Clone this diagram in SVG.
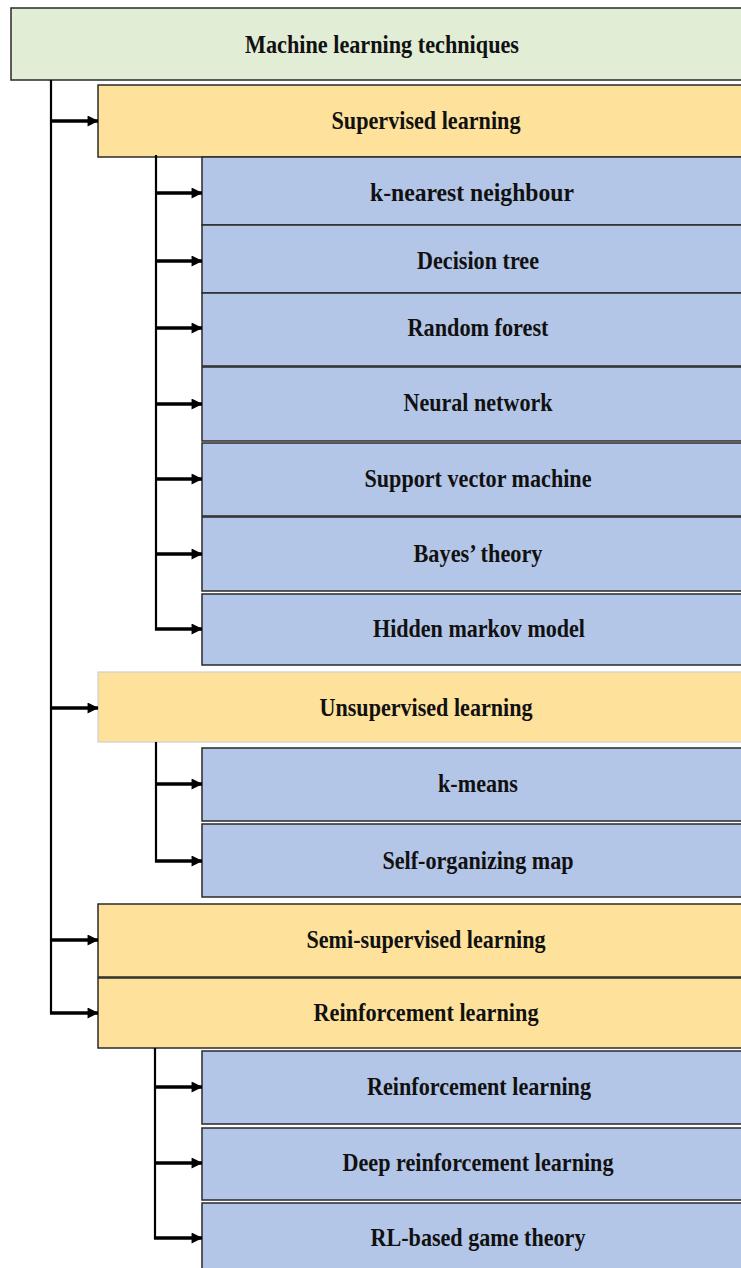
<svg xmlns="http://www.w3.org/2000/svg" width="741" height="1268" viewBox="0 0 741 1268">
  <style>
    .root { fill: #e2edd6; stroke: #2a2a2a; stroke-width: 1.5; }
    .cat { fill: #fee29b; stroke: #2a2a2a; stroke-width: 1.5; }
    .cat-soft { fill: #fee29b; stroke: #cfcfcf; stroke-width: 1.2; }
    .leaf { fill: #b4c6e7; stroke: #2a2a2a; stroke-width: 1.5; }
    text { font-family: "Liberation Serif", "Times New Roman", serif; font-weight: bold; font-size: 26px; fill: #111; text-anchor: middle; }
    .trunk { stroke: #000; stroke-width: 2.2; fill: none; }
    .branch { stroke: #000; stroke-width: 3.5; fill: none; marker-end: url(#head); }
  </style>
  <defs>
    <marker id="head" viewBox="0 0 10 10" refX="9.5" refY="5" markerUnits="userSpaceOnUse" markerWidth="13" markerHeight="11" orient="auto">
      <path d="M0,0 L10,5 L0,10 z" fill="#000"/>
    </marker>
  </defs>
  <rect width="741" height="1268" fill="#ffffff"/>

  <!-- root -->
  <g id="n-root">
    <rect class="root" x="11" y="8" width="740" height="72"/>
    <text x="382" y="53" textLength="274" lengthAdjust="spacingAndGlyphs">Machine learning techniques</text>
  </g>

  <!-- supervised branch -->
  <g id="n-supervised">
    <rect class="cat" x="98" y="85" width="653" height="72"/>
    <text x="426" y="129" textLength="189" lengthAdjust="spacingAndGlyphs">Supervised learning</text>
  </g>
  <g id="n-knn">
    <rect class="leaf" x="202" y="157" width="549" height="68"/>
    <text x="472" y="201" textLength="204" lengthAdjust="spacingAndGlyphs">k-nearest neighbour</text>
  </g>
  <g id="n-dtree">
    <rect class="leaf" x="202" y="225" width="549" height="68"/>
    <text x="478" y="269" textLength="122" lengthAdjust="spacingAndGlyphs">Decision tree</text>
  </g>
  <g id="n-rforest">
    <rect class="leaf" x="202" y="293" width="549" height="73"/>
    <text x="478" y="336" textLength="141" lengthAdjust="spacingAndGlyphs">Random forest</text>
  </g>
  <g id="n-nn">
    <rect class="leaf" x="202" y="367" width="549" height="74"/>
    <text x="478" y="411" textLength="149" lengthAdjust="spacingAndGlyphs">Neural network</text>
  </g>
  <g id="n-svm">
    <rect class="leaf" x="202" y="443" width="549" height="73"/>
    <text x="478" y="487" textLength="227" lengthAdjust="spacingAndGlyphs">Support vector machine</text>
  </g>
  <g id="n-bayes">
    <rect class="leaf" x="202" y="517" width="549" height="74"/>
    <text x="478" y="562" textLength="129" lengthAdjust="spacingAndGlyphs">Bayes’ theory</text>
  </g>
  <g id="n-hmm">
    <rect class="leaf" x="202" y="594" width="549" height="71"/>
    <text x="479" y="637" textLength="212" lengthAdjust="spacingAndGlyphs">Hidden markov model</text>
  </g>

  <!-- unsupervised branch -->
  <g id="n-unsupervised">
    <rect class="cat-soft" x="98" y="672" width="653" height="70"/>
    <text x="426" y="716" textLength="213" lengthAdjust="spacingAndGlyphs">Unsupervised learning</text>
  </g>
  <g id="n-kmeans">
    <rect class="leaf" x="202" y="748" width="549" height="73"/>
    <text x="478" y="792" textLength="80" lengthAdjust="spacingAndGlyphs">k-means</text>
  </g>
  <g id="n-som">
    <rect class="leaf" x="202" y="824" width="549" height="73"/>
    <text x="478" y="869" textLength="191" lengthAdjust="spacingAndGlyphs">Self-organizing map</text>
  </g>

  <!-- semi-supervised -->
  <g id="n-semi">
    <rect class="cat" x="98" y="904" width="653" height="73"/>
    <text x="426" y="948" textLength="239" lengthAdjust="spacingAndGlyphs">Semi-supervised learning</text>
  </g>

  <!-- reinforcement branch -->
  <g id="n-reinforcement">
    <rect class="cat" x="98" y="978" width="653" height="70"/>
    <text x="426" y="1021" textLength="225" lengthAdjust="spacingAndGlyphs">Reinforcement learning</text>
  </g>
  <g id="n-rl">
    <rect class="leaf" x="202" y="1051" width="549" height="73"/>
    <text x="479" y="1095" textLength="224" lengthAdjust="spacingAndGlyphs">Reinforcement learning</text>
  </g>
  <g id="n-drl">
    <rect class="leaf" x="202" y="1128" width="549" height="72"/>
    <text x="478" y="1171" textLength="271" lengthAdjust="spacingAndGlyphs">Deep reinforcement learning</text>
  </g>
  <g id="n-rlgame">
    <rect class="leaf" x="202" y="1203" width="549" height="70"/>
    <text x="478" y="1246" textLength="215" lengthAdjust="spacingAndGlyphs">RL-based game theory</text>
  </g>

  <!-- connectors -->
  <g id="connectors">
    <!-- main trunk -->
    <path class="trunk" d="M51,80 V1014"/>
    <path class="branch" d="M50,121 H98"/>
    <path class="branch" d="M50,708 H98"/>
    <path class="branch" d="M50,940 H98"/>
    <path class="branch" d="M50,1013 H98"/>

    <!-- supervised trunk -->
    <path class="trunk" d="M156,155 V630"/>
    <path class="branch" d="M155,193 H202"/>
    <path class="branch" d="M155,261 H202"/>
    <path class="branch" d="M155,328 H202"/>
    <path class="branch" d="M155,404 H202"/>
    <path class="branch" d="M155,479 H202"/>
    <path class="branch" d="M155,554 H202"/>
    <path class="branch" d="M155,629 H202"/>

    <!-- unsupervised trunk -->
    <path class="trunk" d="M156,742 V862"/>
    <path class="branch" d="M155,784 H202"/>
    <path class="branch" d="M155,861 H202"/>

    <!-- reinforcement trunk -->
    <path class="trunk" d="M155,1048 V1239"/>
    <path class="branch" d="M154,1087 H202"/>
    <path class="branch" d="M154,1163 H202"/>
    <path class="branch" d="M154,1238 H202"/>
  </g>
</svg>
